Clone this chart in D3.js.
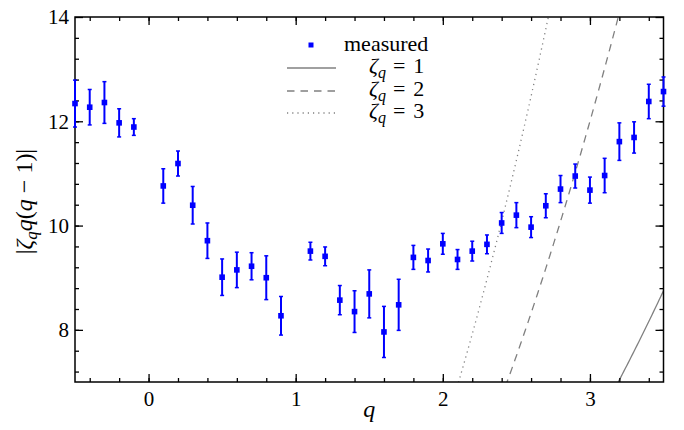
<!DOCTYPE html>
<html>
<head>
<meta charset="utf-8">
<script src="https://cdn.jsdelivr.net/npm/d3@7"></script>
<style>
  body { margin: 0; background: #fff; }
  svg { display: block; font-family: "Liberation Serif", "Times New Roman", serif; }
</style>
</head>
<body>
<div id="chart"></div>
<script>
// measured points (q, value, error)
var qValues = [-0.5, -0.4, -0.3, -0.2, -0.1,
    0.1, 0.2, 0.3, 0.4, 0.5, 0.6, 0.7, 0.8, 0.9,
    1.1, 1.2, 1.3, 1.4, 1.5, 1.6, 1.7, 1.8, 1.9, 2.0,
    2.1, 2.2, 2.3, 2.4, 2.5, 2.6, 2.7, 2.8, 2.9, 3.0,
    3.1, 3.2, 3.3, 3.4, 3.5];
var measured = [12.34, 12.27, 12.36, 11.97, 11.89,
    10.76, 11.19, 10.39, 9.71, 9.01, 9.15, 9.22, 9.00, 8.27,
    9.51, 9.41, 8.57, 8.35, 8.69, 7.96, 8.48, 9.39, 9.33, 9.65,
    9.35, 9.51, 9.64, 10.05, 10.20, 9.97, 10.38, 10.70, 10.95, 10.68,
    10.96, 11.61, 11.69, 12.38, 12.57];
var errors = [0.45, 0.34, 0.40, 0.27, 0.16,
    0.33, 0.24, 0.36, 0.34, 0.35, 0.34, 0.26, 0.42, 0.37,
    0.17, 0.18, 0.28, 0.40, 0.46, 0.49, 0.49, 0.23, 0.22, 0.20,
    0.19, 0.19, 0.18, 0.20, 0.24, 0.20, 0.23, 0.26, 0.23, 0.25,
    0.33, 0.36, 0.30, 0.33, 0.28];

// reference curves |zeta q (q-1)|
var zetaValues = [1, 2, 3];
var zetaDash = ["none", "7.5,6", "1.2,4"];

var xMajor = [0, 1, 2, 3];
var yMajor = [8, 10, 12, 14];

function init() {
    var w = 684, h = 430;
    var pLeft = 75, pRight = 663.5, pTop = 17, pBottom = 382;

    var svg = d3.select("#chart").append("svg")
        .attr("width", w)
        .attr("height", h);

    var xScale = d3.scaleLinear().domain([-0.5, 3.5]).range([pLeft, pRight]);
    var yScale = d3.scaleLinear().domain([7, 14]).range([pBottom, pTop]);

    var xMinor = d3.range(-0.4, 3.5, 0.2).map(d => Math.round(d * 10) / 10);
    var yMinor = d3.range(7.2, 14, 0.4).map(d => Math.round(d * 10) / 10);

    svg.append("clipPath").attr("id", "plotclip")
        .append("rect")
        .attr("x", pLeft).attr("y", pTop)
        .attr("width", pRight - pLeft).attr("height", pBottom - pTop);

    // theory curves
    var qFine = d3.range(-0.5, 3.5001, 0.01);
    var line = d3.line()
        .x(d => xScale(d[0]))
        .y(d => yScale(d[1]));

    zetaValues.forEach(function (z, i) {
        svg.append("path")
            .datum(qFine.map(q => [q, Math.abs(z * q * (q - 1))]))
            .attr("clip-path", "url(#plotclip)")
            .attr("d", line)
            .attr("fill", "none")
            .attr("stroke", "#808080")
            .attr("stroke-width", 1.3)
            .attr("stroke-dasharray", zetaDash[i]);
    });

    // axes: ticks inward on all four sides
    function drawAxis(axisFn, scale, major, minor, transform, labels) {
        var gMinor = svg.append("g")
            .attr("transform", transform)
            .call(axisFn(scale).tickValues(minor).tickSize(-4).tickFormat(""));
        gMinor.select(".domain").remove();
        var g = svg.append("g")
            .attr("transform", transform)
            .call(axisFn(scale).tickValues(major).tickSize(-8).tickPadding(labels ? 9 : 0)
                .tickFormat(labels ? d3.format("d") : ""));
        g.select(".domain").remove();
        g.selectAll("line").attr("stroke", "#000").attr("stroke-width", 1.3);
        gMinor.selectAll("line").attr("stroke", "#000").attr("stroke-width", 1.3);
        g.selectAll("text")
            .style("font-size", "21px")
            .style("font-family", "Liberation Serif, serif")
            .attr("fill", "#000");
        return g;
    }

    drawAxis(d3.axisBottom, xScale, xMajor, xMinor, "translate(0," + pBottom + ")", true);
    drawAxis(d3.axisTop, xScale, xMajor, xMinor, "translate(0," + pTop + ")", false);
    var yAx = drawAxis(d3.axisLeft, yScale, yMajor, yMinor, "translate(" + pLeft + ",0)", true);
    drawAxis(d3.axisRight, yScale, yMajor, yMinor, "translate(" + pRight + ",0)", false);
    yAx.selectAll("text").attr("x", -6);

    svg.append("rect")
        .attr("x", pLeft).attr("y", pTop)
        .attr("width", pRight - pLeft).attr("height", pBottom - pTop)
        .attr("fill", "none")
        .attr("stroke", "#000")
        .attr("stroke-width", 1.5);

    // error bars + markers
    var pts = qValues.map((q, i) => ({q: q, v: measured[i], e: errors[i]}));
    var blue = "#0000ff";
    var eb = svg.append("g");
    eb.selectAll(".bar").data(pts).enter().append("line")
        .attr("x1", d => xScale(d.q)).attr("x2", d => xScale(d.q))
        .attr("y1", d => yScale(d.v - d.e)).attr("y2", d => yScale(d.v + d.e))
        .attr("stroke", blue).attr("stroke-width", 2);
    [-1, 1].forEach(function (s) {
        eb.selectAll(".cap" + s).data(pts).enter().append("line")
            .attr("x1", d => xScale(d.q) - 2).attr("x2", d => xScale(d.q) + 2)
            .attr("y1", d => yScale(d.v + s * d.e)).attr("y2", d => yScale(d.v + s * d.e))
            .attr("stroke", blue).attr("stroke-width", 1.5);
    });
    eb.selectAll("rect").data(pts).enter().append("rect")
        .attr("x", d => xScale(d.q) - 2.8).attr("y", d => yScale(d.v) - 2.8)
        .attr("width", 5.6).attr("height", 5.6)
        .attr("fill", blue);

    // axis labels
    svg.append("text")
        .attr("x", (pLeft + pRight) / 2)
        .attr("y", 417)
        .attr("text-anchor", "middle")
        .style("font-size", "24px")
        .style("font-style", "italic")
        .text("q");

    var yl = svg.append("text")
        .attr("transform", "translate(32," + ((pTop + pBottom) / 2 + 2) + ") rotate(-90)")
        .attr("text-anchor", "middle")
        .style("font-size", "24px");
    yl.append("tspan").text("|");
    yl.append("tspan").style("font-style", "italic").text("ζ");
    yl.append("tspan").style("font-style", "italic").style("font-size", "17px").attr("dy", 5).text("q");
    yl.append("tspan").style("font-style", "italic").attr("dy", -5).text("q");
    yl.append("tspan").text("(");
    yl.append("tspan").style("font-style", "italic").text("q");
    yl.append("tspan").text(" − 1)|");

    // legend
    var legendY = [45, 68, 91, 113];
    svg.append("rect")
        .attr("x", 311 - 2.5).attr("y", legendY[0] - 2.5)
        .attr("width", 5).attr("height", 5)
        .attr("fill", blue);
    svg.append("text")
        .attr("x", 344).attr("y", legendY[0] + 6)
        .style("font-size", "22px")
        .text("measured");

    zetaValues.forEach(function (z, i) {
        var y = legendY[i + 1];
        svg.append("line")
            .attr("x1", 287).attr("x2", 336)
            .attr("y1", y).attr("y2", y)
            .attr("stroke", "#808080")
            .attr("stroke-width", 1.5)
            .attr("stroke-dasharray", zetaDash[i]);
        var t = svg.append("text")
            .attr("x", 369).attr("y", y + 5)
            .style("font-size", "22px");
        t.append("tspan").style("font-style", "italic").text("ζ");
        t.append("tspan").style("font-style", "italic").style("font-size", "16px").attr("dy", 5).text("q");
        t.append("tspan").attr("dy", -5).attr("dx", 7).text("=");
        t.append("tspan").attr("dx", 8).text(z);
    });
}

init();
</script>
</body>
</html>
